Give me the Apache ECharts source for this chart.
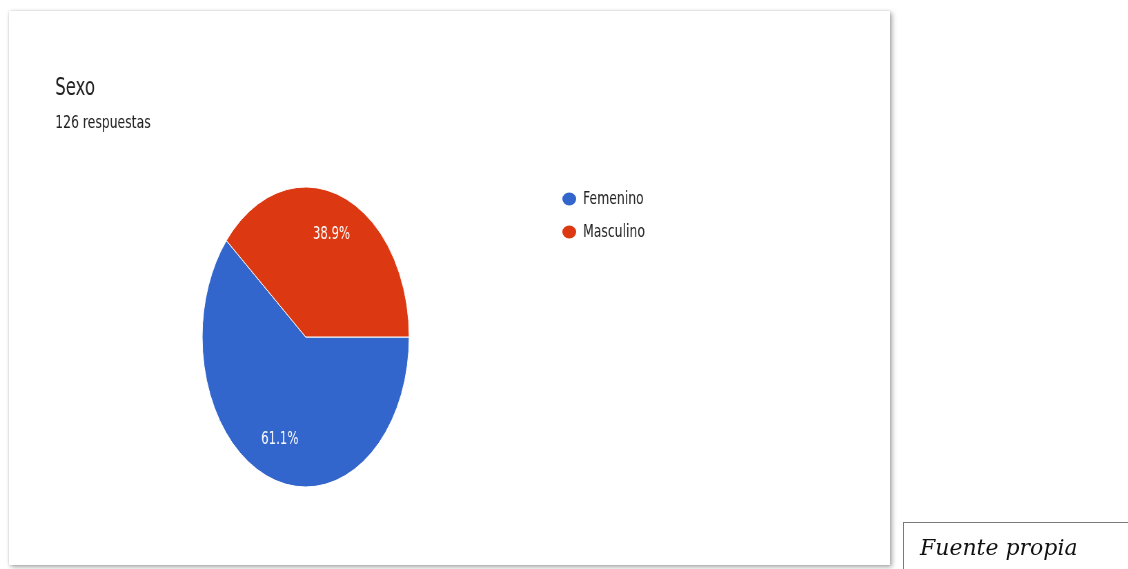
<!DOCTYPE html>
<html>
<head>
<meta charset="utf-8">
<script src="https://cdn.jsdelivr.net/npm/echarts@6/dist/echarts.min.js"></script>
<style>
  html, body { margin: 0; padding: 0; background: #fff; width: 1128px; height: 569px; overflow: hidden; }
  #card {
    position: absolute; left: 9px; top: 11px; width: 881px; height: 554px;
    background: #fff;
    box-shadow: 2px 2px 5px rgba(0,0,0,0.35), 0 0 2px rgba(0,0,0,0.15);
  }
  /* the source picture is squeezed horizontally, so the chart is drawn wide and squeezed back */
  #chart {
    position: absolute; left: 0; top: 0; width: 1635px; height: 569px;
    transform: scaleX(0.69); transform-origin: 0 0;
  }
  #fuente {
    position: absolute; left: 903px; top: 522px; width: 240px; height: 60px;
    border-top: 1px solid #7a7a7a; border-left: 1px solid #7a7a7a;
    font-family: "DejaVu Serif", serif; font-style: italic; font-size: 22px; color: #111;
    padding: 13px 0 0 16px; box-sizing: border-box; line-height: 24px;
  }
</style>
</head>
<body>
<div id="card"></div>
<div id="chart"></div>
<div id="fuente">Fuente propia</div>
<script>
  // datos
  const categories = ['Femenino', 'Masculino'];
  const values = [77, 49];
  const colors = ['#3366cc', '#dc3912'];
  const titleText = 'Sexo';
  const subText = '126 respuestas';

  const chart = echarts.init(document.getElementById('chart'));
  const font = '"DejaVu Sans", sans-serif';

  const pieData = categories.map((name, i) => ({
    name: name,
    value: values[i],
    itemStyle: { color: colors[i] }
  }));

  const option = {
    animation: false,
    title: [
      { text: titleText, left: 80, top: 77, padding: 0,
        textStyle: { fontFamily: font, fontSize: 24, fontWeight: 'normal', color: '#212121' } },
      { text: subText, left: 80, top: 114, padding: 0,
        textStyle: { fontFamily: font, fontSize: 18, fontWeight: 'normal', color: '#212121' } }
    ],
    legend: {
      orient: 'vertical',
      left: 813,
      top: 190,
      padding: 0,
      itemWidth: 22,
      itemHeight: 15,
      itemGap: 15,
      symbolKeepAspect: false,
      icon: 'path://M0,10a10,10 0 1,0 20,0a10,10 0 1,0 -20,0',
      data: categories,
      textStyle: { fontFamily: font, fontSize: 18, color: '#222', padding: [0, 0, 0, 4] }
    },
    series: [
      {
        type: 'pie',
        center: [443, 337],
        radius: [0, 150],
        startAngle: 0,
        clockwise: true,
        data: pieData,
        label: { show: false },
        labelLine: { show: false },
        itemStyle: { borderColor: '#fff', borderWidth: 1 },
        emphasis: { disabled: true }
      },
      {
        // capa solo para las etiquetas, a 0.71 del radio como en la imagen
        type: 'pie',
        center: [443, 337],
        radius: [63, 150],
        startAngle: 0,
        clockwise: true,
        silent: true,
        data: pieData.map(d => ({ name: d.name, value: d.value })),
        itemStyle: { color: 'rgba(0,0,0,0)' },
        label: {
          show: true,
          position: 'inside',
          fontFamily: font,
          fontSize: 17,
          color: '#fff',
          formatter: p => p.percent.toFixed(1) + '%'
        },
        labelLine: { show: false },
        emphasis: { disabled: true }
      }
    ]
  };

  chart.setOption(option);
</script>
</body>
</html>
